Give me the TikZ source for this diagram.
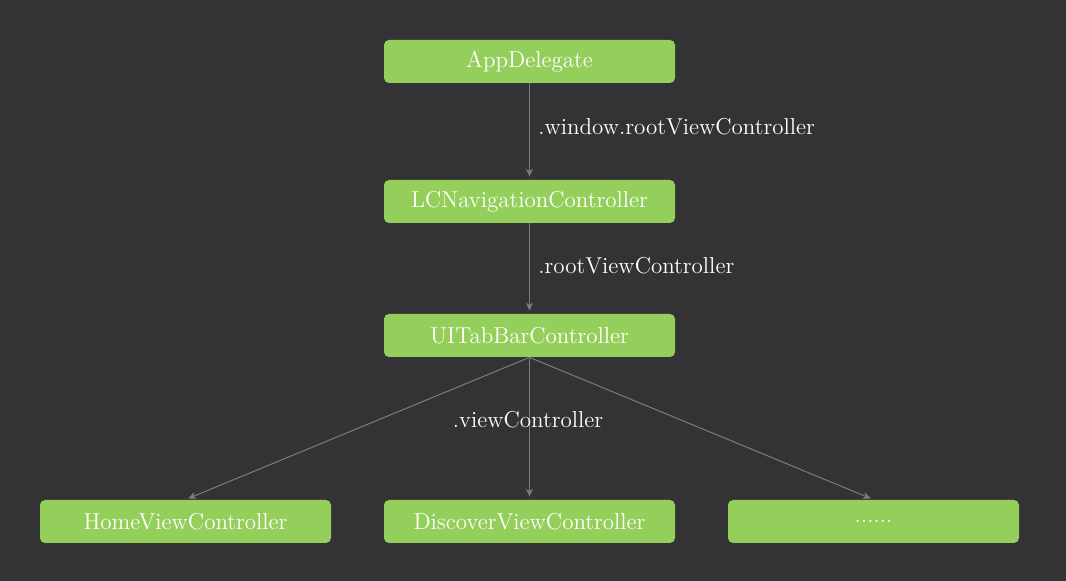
\documentclass[tikz,border=0pt]{standalone}
\usetikzlibrary{arrows.meta}
\definecolor{bg}{HTML}{333335}
\definecolor{boxgreen}{HTML}{95CF5B}
\definecolor{linegray}{HTML}{7C7C7E}
\tikzset{
  vcbox/.style={rectangle, rounded corners=2.5pt, fill=boxgreen, draw=none,
    minimum width=145.5pt, minimum height=21.5pt, inner sep=0pt,
    text=white, font=\fontsize{11.5}{13}\selectfont},
  lbl/.style={text=white, font=\fontsize{11.5}{13}\selectfont, inner sep=0pt},
  link/.style={draw=linegray, line width=0.5pt, -{Stealth[length=4pt,width=3.6pt]}, shorten >=1.5pt}
}
\begin{document}
\begin{tikzpicture}[x=0.5pt,y=-0.5pt]
\fill[bg] (0,0) rectangle (1066,581);
\useasboundingbox (0,0) rectangle (1066,581);
\node[vcbox] (app) at (529.5,61.5) {AppDelegate};
\node[vcbox] (nav) at (529.5,201.5) {LCNavigationController};
\node[vcbox] (tab) at (529.5,335.5) {UITabBarController};
\node[vcbox] (home) at (185.5,521.5) {HomeViewController};
\node[vcbox] (disc) at (529.5,521.5) {DiscoverViewController};
\node[vcbox] (more) at (873.5,521.5) {......};
\draw[link] (app.south) -- (nav.north);
\draw[link] (nav.south) -- (tab.north);
\draw[link] (tab.south) -- (home.north);
\draw[link] (tab.south) -- (disc.north);
\draw[link] (tab.south) -- (more.north);
\node[lbl, anchor=west] (l1) at (538,127) {.window.rootViewController};
\node[lbl, anchor=west] (l2) at (538,266) {.rootViewController};
\node[lbl] (l3) at (528,420) {.viewController};
\end{tikzpicture}
\end{document}
